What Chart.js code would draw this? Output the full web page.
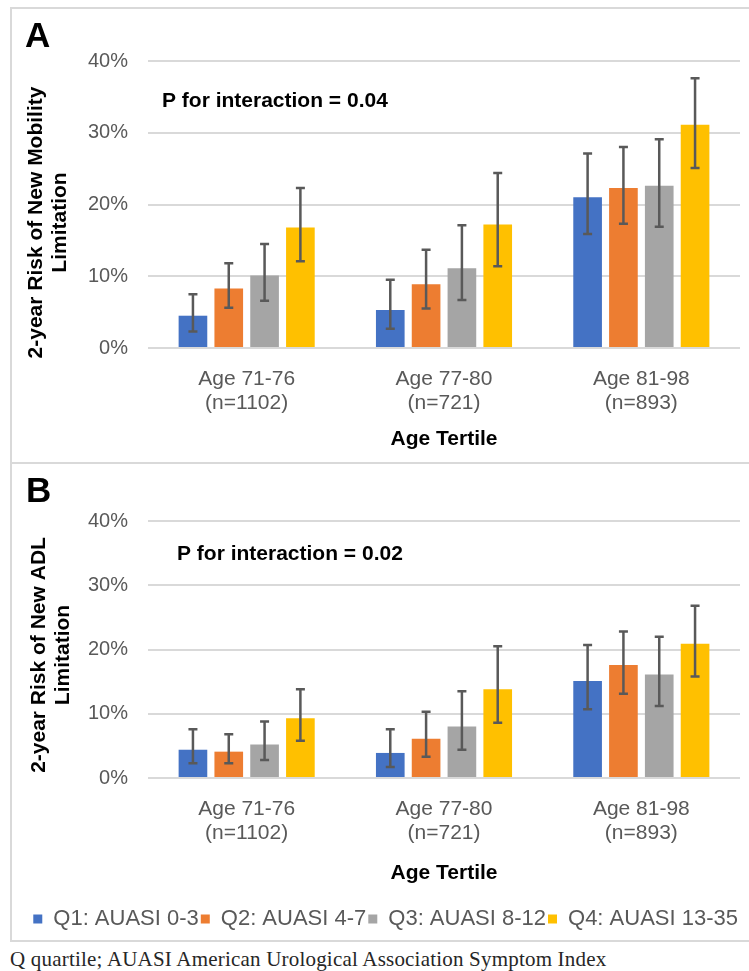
<!DOCTYPE html>
<html>
<head>
<meta charset="utf-8">
<script src="https://cdn.jsdelivr.net/npm/chart.js@4/dist/chart.umd.min.js"></script>
<style>
  html, body { margin: 0; padding: 0; background: #fff; }
  body { width: 749px; height: 971px; position: relative; overflow: hidden; }
  .frame { position: absolute; left: 10px; width: 800px; border: 2px solid #d9d9d9; border-right: none; box-sizing: content-box; }
  #frameA { top: 7px; height: 453px; }
  #frameB { top: 464px; height: 476px; border-top: none; }
  canvas { position: absolute; left: 0; }
  #chartA { top: 9px; }
  #chartB { top: 464px; }
  .note { position: absolute; left: 10px; top: 949px; font: 21px/1 "Liberation Serif", "Times New Roman", serif; letter-spacing: 0.2px; color: #262626; white-space: nowrap; }
</style>
</head>
<body>
<div class="frame" id="frameA"></div>
<div class="frame" id="frameB"></div>
<canvas id="chartA" width="749" height="453"></canvas>
<canvas id="chartB" width="749" height="476"></canvas>
<div class="note">Q quartile; AUASI American Urological Association Symptom Index</div>
<script>
// ── data (percent) ─────────────────────────────────────────
const categories = [['Age 71-76', '(n=1102)'], ['Age 77-80', '(n=721)'], ['Age 81-98', '(n=893)']];
const quartiles = ['Q1: AUASI 0-3', 'Q2: AUASI 4-7', 'Q3: AUASI 8-12', 'Q4: AUASI 13-35'];
const yTicks = [0, 10, 20, 30, 40];

// Panel A: new mobility limitation, one row per quartile
const mobilityRisk = [
  [4.5, 5.3, 21.0],
  [8.3, 8.9, 22.3],
  [10.1, 11.1, 22.6],
  [16.8, 17.2, 31.1],
];
const mobilityLow = [
  [2.3, 2.7, 15.9],
  [5.6, 5.5, 17.3],
  [6.6, 6.7, 16.9],
  [12.1, 11.4, 25.1],
];
const mobilityHigh = [
  [7.5, 9.5, 27.1],
  [11.8, 13.7, 28.0],
  [14.5, 17.1, 29.1],
  [22.3, 24.4, 37.6],
];

// Panel B: new ADL limitation
const adlRisk = [
  [4.4, 3.9, 15.1],
  [4.1, 6.1, 17.6],
  [5.2, 8.0, 16.1],
  [9.3, 13.8, 20.9],
];
const adlLow = [
  [2.3, 1.7, 10.7],
  [2.3, 3.3, 13.1],
  [2.8, 4.4, 11.2],
  [5.8, 8.6, 15.8],
];
const adlHigh = [
  [7.6, 7.6, 20.7],
  [6.8, 10.3, 22.8],
  [8.8, 13.5, 22.0],
  [13.8, 20.5, 26.8],
];

const COLORS = ['#4472c4', '#ed7d31', '#a5a5a5', '#ffc000'];
const FONT = "'Liberation Sans', Arial, sans-serif";

Chart.defaults.font.family = FONT;

/** Whiskers from the low/high arrays, placed on each bar through the y scale. */
const errorBars = {
  id: 'errorBars',
  afterDatasetsDraw(chart, args, opts) {
    const { ctx } = chart;
    const y = chart.scales.y;
    ctx.save();
    ctx.strokeStyle = '#595959';
    ctx.lineWidth = 2.5;
    chart.data.datasets.forEach((ds, i) => {
      chart.getDatasetMeta(i).data.forEach((bar, j) => {
        const top = y.getPixelForValue(opts.high[i][j]);
        const bot = y.getPixelForValue(opts.low[i][j]);
        ctx.beginPath();
        ctx.moveTo(bar.x, top); ctx.lineTo(bar.x, bot);
        ctx.moveTo(bar.x - 4.5, top); ctx.lineTo(bar.x + 4.5, top);
        ctx.moveTo(bar.x - 4.5, bot); ctx.lineTo(bar.x + 4.5, bot);
        ctx.stroke();
      });
    });
    ctx.restore();
  },
};

/** Panel letter, p-value note and the two-line rotated y title. */
const panelText = {
  id: 'panelText',
  afterDraw(chart, args, opts) {
    const { ctx } = chart;
    ctx.save();
    ctx.fillStyle = '#000';
    ctx.textBaseline = 'alphabetic';
    ctx.textAlign = 'left';
    ctx.font = `bold 35px ${FONT}`;
    ctx.fillText(opts.letter, opts.letterX, opts.letterY);
    ctx.font = `bold 21px ${FONT}`;
    ctx.fillText(opts.note, opts.noteX, opts.noteY);

    ctx.translate(opts.titleX, opts.titleY);
    ctx.rotate(-Math.PI / 2);
    ctx.textAlign = 'center';
    ctx.textBaseline = 'middle';
    opts.title.forEach((line, k) => ctx.fillText(line, 0, k * 24));
    ctx.restore();
  },
};

function buildDatasets(values) {
  return quartiles.map((label, i) => ({
    label,
    data: values[i],
    backgroundColor: COLORS[i],
    borderWidth: 0,
    categoryPercentage: 0.726,
    barPercentage: 0.8,
  }));
}

function createPanel(canvas, p) {
  return new Chart(canvas, {
    type: 'bar',
    data: { labels: categories, datasets: buildDatasets(p.values) },
    plugins: [errorBars, panelText],
    options: {
      responsive: false,
      animation: false,
      devicePixelRatio: 1,
      layout: { padding: p.padding },
      scales: {
        x: {
          grid: { display: false },
          border: { display: false },
          ticks: { color: '#595959', font: { size: 21, lineHeight: 1.16 }, padding: p.tickPad, maxRotation: 0, autoSkip: false },
          title: {
            display: true,
            text: 'Age Tertile',
            color: '#000',
            font: { size: 21, weight: 'bold', lineHeight: 1.2 },
            padding: { top: 0, bottom: p.xTitlePad },
          },
          afterFit: s => { s.height = p.xHeight; },
        },
        y: {
          min: yTicks[0],
          max: yTicks[yTicks.length - 1],
          afterBuildTicks: s => { s.ticks = yTicks.map(v => ({ value: v })); },
          grid: { color: '#d9d9d9', lineWidth: 2, drawTicks: false },
          border: { display: false },
          ticks: { color: '#595959', font: { size: 20 }, padding: 20, callback: v => `${v}%` },
          afterFit: s => { s.width = p.yWidth; },
        },
      },
      plugins: {
        tooltip: { enabled: false },
        legend: p.legend,
        errorBars: { low: p.low, high: p.high },
        panelText: p.text,
      },
    },
  });
}

createPanel(document.getElementById('chartA'), {
  values: mobilityRisk,
  low: mobilityLow,
  high: mobilityHigh,
  padding: { top: 52, right: 9, bottom: 0, left: 0 },
  xHeight: 114,
  xTitlePad: 10.4,
  tickPad: 11,
  yWidth: 148,
  legend: { display: false },
  text: {
    letter: 'A', letterX: 25, letterY: 37.7,
    note: 'P for interaction = 0.04', noteX: 162, noteY: 98.3,
    title: ['2-year Risk of New Mobility', 'Limitation'], titleX: 36, titleY: 213.5,
  },
});

createPanel(document.getElementById('chartB'), {
  values: adlRisk,
  low: adlLow,
  high: adlHigh,
  padding: { top: 57, right: 9, bottom: 0, left: 0 },
  xHeight: 128,
  xTitlePad: 19.9,
  tickPad: 11,
  yWidth: 148,
  legend: {
    display: true,
    position: 'bottom',
    align: 'end',
    labels: { color: '#595959', font: { size: 22 }, boxWidth: 9, boxHeight: 9, padding: 2 },
  },
  text: {
    letter: 'B', letterX: 26, letterY: 37.7,
    note: 'P for interaction = 0.02', noteX: 177, noteY: 96,
    title: ['2-year Risk of New ADL', 'Limitation'], titleX: 39.5, titleY: 191,
  },
});
</script>
</body>
</html>
